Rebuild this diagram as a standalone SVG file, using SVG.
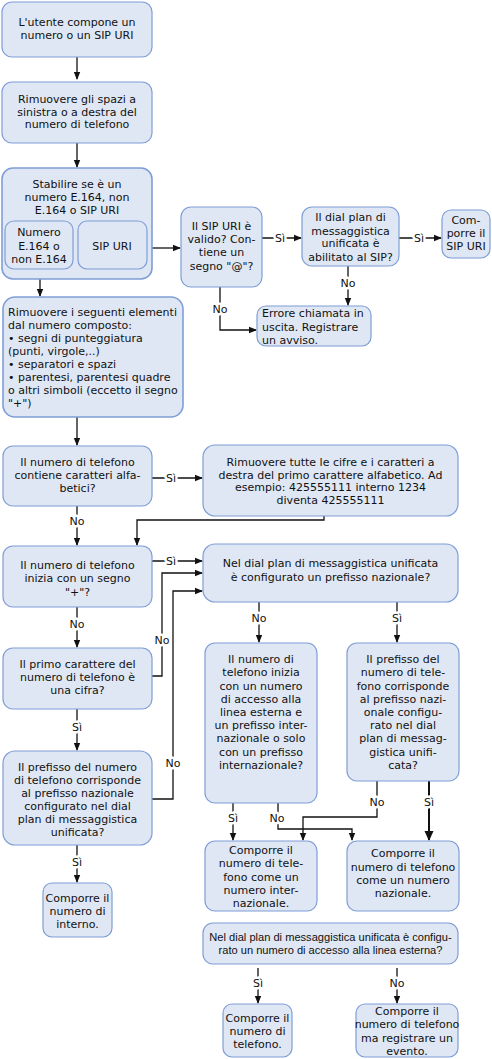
<svg xmlns="http://www.w3.org/2000/svg" width="492" height="1059" viewBox="0 0 492 1059">
<style>
.n{fill:#dfe7f4;stroke:#7f9ed6;stroke-width:1.2}
.c{stroke-width:1.6}
text{font-family:"DejaVu Sans",Verdana,sans-serif;font-size:11px;fill:#111}
.m{text-anchor:middle}
.a{font-family:"Liberation Sans",Arial,sans-serif;font-size:11.1px}
.e path{fill:none;stroke:#111;stroke-width:1.3;marker-end:url(#ah)}
.e path.t{stroke-width:2;marker-end:url(#ah2)}
.e text{text-anchor:middle;stroke:#fff;stroke-width:5;paint-order:stroke;stroke-linejoin:round}
</style>
<defs>
<marker id="ah" viewBox="0 0 8 8" refX="7" refY="4" markerWidth="8" markerHeight="8" markerUnits="userSpaceOnUse" orient="auto"><path d="M0,0.8 L8,4 L0,7.2 z" fill="#111"/></marker>
<marker id="ah2" viewBox="0 0 10 10" refX="9" refY="5" markerWidth="10" markerHeight="10" markerUnits="userSpaceOnUse" orient="auto"><path d="M0,0.5 L10,5 L0,9.5 z" fill="#111"/></marker>
</defs>
<g id="connectors" class="e">
<path d="M77,57 V79"/>
<path d="M77,143 V167"/>
<path d="M152,248 H180"/>
<path d="M262,238 H301"/><text x="280" y="242">Sì</text>
<path d="M399,238 H441"/><text x="419" y="242">Sì</text>
<path d="M348,266 V305"/><text x="348" y="287">No</text>
<path d="M220,287 V330 H256"/><text x="220" y="313">No</text>
<path d="M40,269 V296"/>
<path d="M77,417 V445"/>
<path d="M152,478 H202"/><text x="171" y="482">Sì</text>
<path d="M324,516 V520 H137 V545"/>
<path d="M77,506 V545"/><text x="77" y="525">No</text>
<path d="M152,561 H202"/><text x="171" y="565">Sì</text>
<path d="M77,607 V647"/><text x="77" y="628">No</text>
<path d="M152,676 H162 V573 H202"/><text x="162" y="644">No</text>
<path d="M77,709 V750"/><text x="77" y="731">Sì</text>
<path d="M152,799 H173 V591 H202"/><text x="173" y="767">No</text>
<path d="M77,845 V882"/><text x="77" y="866">Sì</text>
<path d="M259,602 V642"/><text x="259" y="622">No</text>
<path d="M397,602 V642"/><text x="397" y="622">Sì</text>
<path d="M233,803 V840"/><text x="233" y="822">Sì</text>
<path d="M278,803 V829 H352 V840"/><text x="277" y="822">No</text>
<path d="M377,781 V817 H303 V840"/><text x="377" y="806">No</text>
<path class="t" d="M429,781 V840"/><text x="429" y="806">Sì</text>
<path d="M258,968 V1003"/><text x="258" y="987">Sì</text>
<path d="M397,968 V1003"/><text x="397" y="987">No</text>
</g>
<g id="n1"><rect class="n" x="2" y="2" width="150" height="55" rx="10"/><text class="m" x="77" y="26">L'utente compone un</text><text class="m" x="77" y="39">numero o un SIP URI</text></g>
<g id="n2"><rect class="n" x="2" y="82" width="150" height="61" rx="10"/><text class="m" x="77" y="103">Rimuovere gli spazi a</text><text class="m" x="77" y="116">sinistra o a destra del</text><text class="m" x="77" y="128">numero di telefono</text></g>
<g id="n3"><rect class="n c" x="2" y="168" width="150" height="111" rx="11"/><text class="m" x="77" y="188">Stabilire se è un</text><text class="m" x="77" y="201">numero E.164, non</text><text class="m" x="77" y="214">E.164 o SIP URI</text></g>
<g id="n3a"><rect class="n" x="5" y="221" width="68" height="48" rx="9"/><text class="m" x="39" y="236">Numero</text><text class="m" x="39" y="250">E.164 o</text><text class="m" x="39" y="263">non E.164</text></g>
<g id="n3b"><rect class="n" x="78" y="221" width="69" height="48" rx="9"/><text class="m" x="112" y="250">SIP URI</text></g>
<g id="n_sipvalid"><rect class="n" x="181" y="207" width="81" height="80" rx="10"/><text class="m" x="221.5" y="230">Il SIP URI è</text><text class="m" x="221.5" y="243">valido? Con-</text><text class="m" x="221.5" y="256">tiene un</text><text class="m" x="221.5" y="270">segno "@"?</text></g>
<g id="n_sipdp"><rect class="n" x="302" y="207" width="97" height="59" rx="10"/><text class="m" x="350.5" y="221">Il dial plan di</text><text class="m" x="350.5" y="235">messaggistica</text><text class="m" x="350.5" y="247">unificata è</text><text class="m" x="350.5" y="261">abilitato al SIP?</text></g>
<g id="n_sipdial"><rect class="n" x="442" y="210" width="48" height="48" rx="9"/><text class="m" x="466" y="224">Com-</text><text class="m" x="466" y="237">porre il</text><text class="m" x="466" y="250">SIP URI</text></g>
<g id="n_err"><rect class="n" x="257" y="306" width="114" height="40" rx="9"/><text x="262" y="317">Errore chiamata in</text><text x="262" y="331">uscita. Registrare</text><text x="262" y="344">un avviso.</text></g>
<g id="n4"><rect class="n c" x="3" y="297" width="180" height="120" rx="12"/><text x="8" y="316">Rimuovere i seguenti elementi</text><text x="8" y="329">dal numero composto:</text><text x="8" y="342">• segni di punteggiatura</text><text x="8" y="355">(punti, virgole,..)</text><text x="8" y="368">• separatori e spazi</text><text x="8" y="381">• parentesi, parentesi quadre</text><text x="8" y="394">o altri simboli (eccetto il segno</text><text x="8" y="407">"+")</text></g>
<g id="n5"><rect class="n" x="3" y="446" width="149" height="60" rx="10"/><text class="m" x="77.5" y="466">Il numero di telefono</text><text class="m" x="77.5" y="479">contiene caratteri alfa-</text><text class="m" x="77.5" y="492">betici?</text></g>
<g id="n6"><rect class="n" x="203" y="445" width="255" height="71" rx="12"/><text class="m" x="330.5" y="466">Rimuovere tutte le cifre e i caratteri a</text><text class="m" x="330.5" y="479">destra del primo carattere alfabetico. Ad</text><text class="m" x="330.5" y="491">esempio: 425555111 interno 1234</text><text class="m" x="330.5" y="504">diventa 425555111</text></g>
<g id="n7"><rect class="n" x="3" y="546" width="149" height="61" rx="10"/><text class="m" x="77.5" y="569">Il numero di telefono</text><text class="m" x="77.5" y="582">inizia con un segno</text><text class="m" x="77.5" y="596">"+"?</text></g>
<g id="n8"><rect class="n" x="203" y="544" width="255" height="58" rx="12"/><text class="m" x="330.5" y="567">Nel dial plan di messaggistica unificata</text><text class="m" x="330.5" y="581">è configurato un prefisso nazionale?</text></g>
<g id="n9"><rect class="n" x="3" y="648" width="149" height="61" rx="10"/><text class="m" x="77.5" y="668">Il primo carattere del</text><text class="m" x="77.5" y="681">numero di telefono è</text><text class="m" x="77.5" y="694">una cifra?</text></g>
<g id="n10"><rect class="n" x="3" y="751" width="149" height="94" rx="12"/><text class="m" x="77.5" y="771">Il prefisso del numero</text><text class="m" x="77.5" y="784">di telefono corrisponde</text><text class="m" x="77.5" y="797">al prefisso nazionale</text><text class="m" x="77.5" y="810">configurato nel dial</text><text class="m" x="77.5" y="823">plan di messaggistica</text><text class="m" x="77.5" y="836">unificata?</text></g>
<g id="n11"><rect class="n" x="43" y="883" width="69" height="54" rx="9"/><text class="m" x="77.5" y="902">Comporre il</text><text class="m" x="77.5" y="915">numero di</text><text class="m" x="77.5" y="928">interno.</text></g>
<g id="n12"><rect class="n" x="205" y="643" width="112" height="160" rx="10"/><text class="m" x="261" y="663">Il numero di</text><text class="m" x="261" y="676">telefono inizia</text><text class="m" x="261" y="690">con un numero</text><text class="m" x="261" y="703">di accesso alla</text><text class="m" x="261" y="716">linea esterna e</text><text class="m" x="261" y="729">un prefisso inter-</text><text class="m" x="261" y="742">nazionale o solo</text><text class="m" x="261" y="756">con un prefisso</text><text class="m" x="261" y="769">internazionale?</text></g>
<g id="n13"><rect class="n" x="347" y="643" width="112" height="138" rx="10"/><text class="m" x="403" y="663">Il prefisso del</text><text class="m" x="403" y="676">numero di tele-</text><text class="m" x="403" y="690">fono corrisponde</text><text class="m" x="403" y="703">al prefisso nazi-</text><text class="m" x="403" y="716">onale configu-</text><text class="m" x="403" y="729">rato nel dial</text><text class="m" x="403" y="742">plan di messag-</text><text class="m" x="403" y="756">gistica unifi-</text><text class="m" x="403" y="769">cata?</text></g>
<g id="n14"><rect class="n" x="205" y="841" width="112" height="70" rx="10"/><text class="m" x="261" y="854">Comporre il</text><text class="m" x="261" y="867">numero di tele-</text><text class="m" x="261" y="881">fono come un</text><text class="m" x="261" y="894">numero inter-</text><text class="m" x="261" y="907">nazionale.</text></g>
<g id="n15"><rect class="n" x="347" y="841" width="112" height="70" rx="10"/><text class="m" x="403" y="857">Comporre il</text><text class="m" x="403" y="871">numero di telefono</text><text class="m" x="403" y="884">come un numero</text><text class="m" x="403" y="897">nazionale.</text></g>
<g id="n16"><rect class="n" x="203" y="923" width="255" height="41" rx="10"/><text class="m a" x="330.5" y="941">Nel dial plan di messaggistica unificata è configu-</text><text class="m a" x="330.5" y="954">rato un numero di accesso alla linea esterna?</text></g>
<g id="n17"><rect class="n" x="223" y="1004" width="69" height="53" rx="9"/><text class="m" x="257.5" y="1022">Comporre il</text><text class="m" x="257.5" y="1035">numero di</text><text class="m" x="257.5" y="1048">telefono.</text></g>
<g id="n18"><rect class="n" x="356" y="1004" width="102" height="53" rx="9"/><text class="m" x="407" y="1015">Comporre il</text><text class="m" x="407" y="1028">numero di telefono</text><text class="m" x="407" y="1042">ma registrare un</text><text class="m" x="407" y="1055">evento.</text></g>
</svg>
